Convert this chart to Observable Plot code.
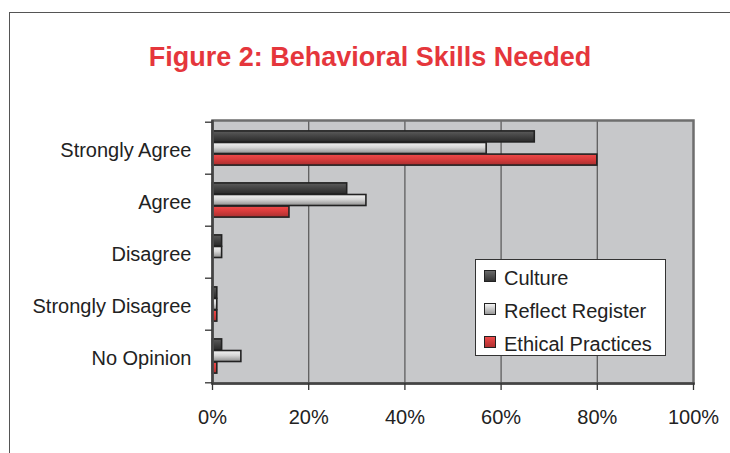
<!DOCTYPE html>
<html>
<head>
<meta charset="utf-8">
<script src="https://cdn.jsdelivr.net/npm/d3@7"></script>
<script src="https://cdn.jsdelivr.net/npm/@observablehq/plot@0.6"></script>
<style>
  html, body { margin: 0; padding: 0; background: #fff; }
  #wrap { position: relative; width: 730px; height: 453px; overflow: hidden; font-family: "Liberation Sans", Arial, sans-serif; }
  #border { position: absolute; left: 9px; top: 12px; width: 740px; height: 460px; border-top: 1.5px solid #555; border-left: 1.5px solid #555; }
  #title { position: absolute; left: 0; width: 740px; top: 44px; text-align: center; font-size: 27px; line-height: 27px; font-weight: bold; color: #e5363c; }
  #chart { position: absolute; left: 0; top: 0; }
  #legend { position: absolute; left: 475px; top: 259px; width: 189px; height: 95px; background: #fff; border: 1.5px solid #333; box-sizing: content-box; }
  .item { position: absolute; left: 8px; height: 24px; display: flex; align-items: center; font-size: 20px; color: #222; white-space: nowrap; }
  .sw { width: 10px; height: 10px; border: 1.5px solid #222; margin-right: 8px; margin-top: -4px; }
</style>
</head>
<body>
<div id="wrap">
  <div id="border"></div>
  <div id="chart"></div>
  <div id="title">Figure 2: Behavioral Skills Needed</div>
  <div id="legend"></div>
</div>
<script>
const categories = ["Strongly Agree", "Agree", "Disagree", "Strongly Disagree", "No Opinion"];
const culture = [67, 28, 2, 1, 2];
const reflectRegister = [57, 32, 2, 1, 6];
const ethicalPractices = [80, 16, 0, 1, 1];
const seriesNames = ["Culture", "Reflect Register", "Ethical Practices"];
const xTicks = [0, 20, 40, 60, 80, 100];

const seriesValues = [culture, reflectRegister, ethicalPractices];
const gradients = [
  {id: "g-culture", stops: [["0%", "#5c5c5c"], ["45%", "#444"], ["100%", "#2a2a2a"]], css: "linear-gradient(#6a6a6a,#333)"},
  {id: "g-reflect", stops: [["0%", "#f4f4f4"], ["45%", "#d6d6d6"], ["100%", "#8e8e8e"]], css: "linear-gradient(#f4f4f4,#999)"},
  {id: "g-ethical", stops: [["0%", "#ee4a4a"], ["45%", "#da3c3c"], ["100%", "#a83030"]], css: "linear-gradient(#ee4a4a,#b03030)"}
];

const W = 730, H = 453, mL = 212, mR = 37, mT = 120, mB = 70;
const band = (H - mT - mB) / categories.length;
const barH = 11.6;
const groupTop = (band - 3 * barH) / 2;

const rows = [];
seriesNames.forEach((s, si) => {
  categories.forEach((c, ci) => {
    const v = seriesValues[si][ci];
    if (v > 0) rows.push({category: c, series: s, si, value: v});
  });
});

const barMarks = seriesNames.map((s, si) =>
  Plot.barX(rows.filter(d => d.si === si), {
    y: "category", x: "value",
    fill: `url(#${gradients[si].id})`,
    stroke: "#222", strokeWidth: 1.6,
    insetTop: groupTop + si * barH,
    insetBottom: band - groupTop - (si + 1) * barH
  })
);

const defsMark = () => {
  const defs = d3.create("svg:defs");
  gradients.forEach(g => {
    const lg = defs.append("linearGradient").attr("id", g.id).attr("x1", 0).attr("y1", 0).attr("x2", 0).attr("y2", 1);
    g.stops.forEach(([o, c]) => lg.append("stop").attr("offset", o).attr("stop-color", c));
  });
  return defs.node();
};

const chart = Plot.plot({
  width: W, height: H,
  marginLeft: mL, marginRight: mR, marginTop: mT, marginBottom: mB,
  style: {fontFamily: "Liberation Sans, Arial, sans-serif", color: "#222", background: "transparent"},
  x: {domain: [0, 100], label: null},
  y: {domain: categories, padding: 0, label: null},
  marks: [
    defsMark,
    Plot.frame({fill: "#c7c8ca"}),
    Plot.ruleX(xTicks.slice(1, -1), {stroke: "#5e5e5e", strokeWidth: 1.3}),
    ...barMarks,
    Plot.frame({stroke: "#6e6e6e", strokeWidth: 2.5}),
    Plot.ruleX([0], {stroke: "#444", strokeWidth: 2.5}),
    Plot.frame({anchor: "bottom", stroke: "#444", strokeWidth: 2.5}),
    Plot.axisX({ticks: xTicks, tickFormat: d => d + "%", tickSize: 7, tickPadding: 19, fontSize: 20, stroke: "#333", strokeWidth: 1.3, label: null}),
    Plot.axisY({tickSize: 0, tickPadding: 21, fontSize: 20, dy: 2.5, label: null}),
    Plot.axisY({tickSize: 7, tickFormat: () => "", dy: -band / 2, stroke: "#333", strokeWidth: 1.3, label: null}),
    Plot.axisY({ticks: [categories[categories.length - 1]], tickSize: 7, tickFormat: () => "", dy: band / 2, stroke: "#333", strokeWidth: 1.3, label: null})
  ]
});
document.getElementById("chart").appendChild(chart);

const legend = document.getElementById("legend");
seriesNames.forEach((s, i) => {
  const it = document.createElement("div");
  it.className = "item";
  it.style.top = (6 + i * 33) + "px";
  const sw = document.createElement("span");
  sw.className = "sw";
  sw.style.background = gradients[i].css;
  const tx = document.createElement("span");
  tx.textContent = s;
  it.appendChild(sw); it.appendChild(tx);
  legend.appendChild(it);
});
</script>
</body>
</html>
